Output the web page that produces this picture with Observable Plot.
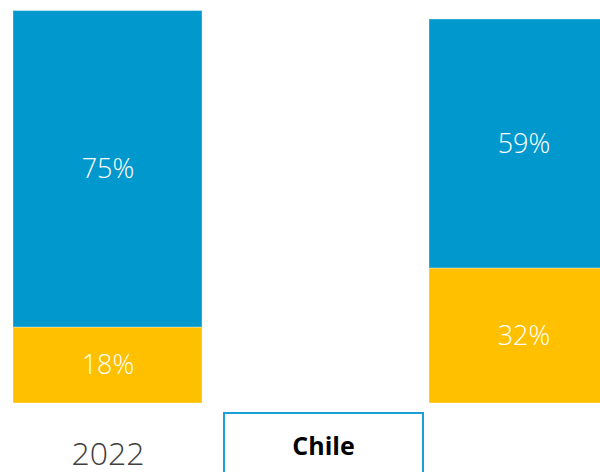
<!DOCTYPE html>
<html>
<head>
<meta charset="utf-8">
<script src="https://cdn.jsdelivr.net/npm/d3@7"></script>
<script src="https://cdn.jsdelivr.net/npm/@observablehq/plot@0.6"></script>
<style>
  html, body { margin: 0; padding: 0; background: #fff; overflow: hidden; }
  #wrap { position: relative; width: 600px; height: 472px; overflow: hidden; }
  #chile {
    position: absolute; left: 223px; top: 412px; width: 197px; height: 80px;
    border: 2.5px solid #1A9FD6; box-sizing: content-box;
  }
  #chile span {
    position: absolute; left: 0; right: 0; top: 18px; text-align: center;
    font-family: "Open Sans", sans-serif; font-weight: 700; font-size: 25px; line-height: 26px; color: #000;
  }
</style>
</head>
<body>
<div id="wrap"></div>
<script>
const years = ["2022", "2023"];
const segments = ["Segmento A", "Segmento B"];
const segmentColors = ["#FFC000", "#0098CD"];
const values2022 = [18, 75];
const values2023 = [32, 59];
const yearLabels = ["2022"];
const legendLabel = "Chile";

const data = [];
segments.forEach((s, i) => {
  data.push({year: years[0], segment: s, value: values2022[i]});
  data.push({year: years[1], segment: s, value: values2023[i]});
});
// keep stack order: segment A at bottom
data.sort((a, b) => segments.indexOf(a.segment) - segments.indexOf(b.segment));

const chart = Plot.plot({
  width: 600,
  height: 472,
  marginTop: 0, marginBottom: 0, marginLeft: 0, marginRight: 0,
  style: {background: "transparent", overflow: "visible"},
  x: {type: "band", domain: years, range: [13, 618], paddingInner: 0.5457, paddingOuter: 0, axis: null},
  y: {domain: [0, 100], range: [403, -19], axis: null},
  color: {domain: segments, range: segmentColors},
  marks: [
    Plot.barY(data, Plot.stackY({x: "year", y: "value", fill: "segment", stroke: "#ffffff", strokeOpacity: 0.35, strokeWidth: 1})),
    Plot.text(data, Plot.stackY({
      x: "year", y: "value", text: d => d.value + "%",
      fill: "white", fontSize: 27, fontWeight: 300, fontFamily: "Open Sans"
    })),
    Plot.text(yearLabels, {
      x: d => d, text: d => d, frameAnchor: "bottom", lineAnchor: "bottom", dy: -8,
      fill: "#404040", fontSize: 32, fontWeight: 300, fontFamily: "Open Sans"
    })
  ]
});

const wrap = document.getElementById("wrap");
wrap.appendChild(chart);
const box = document.createElement("div");
box.id = "chile";
const sp = document.createElement("span");
sp.textContent = legendLabel;
box.appendChild(sp);
wrap.appendChild(box);
</script>
</body>
</html>
